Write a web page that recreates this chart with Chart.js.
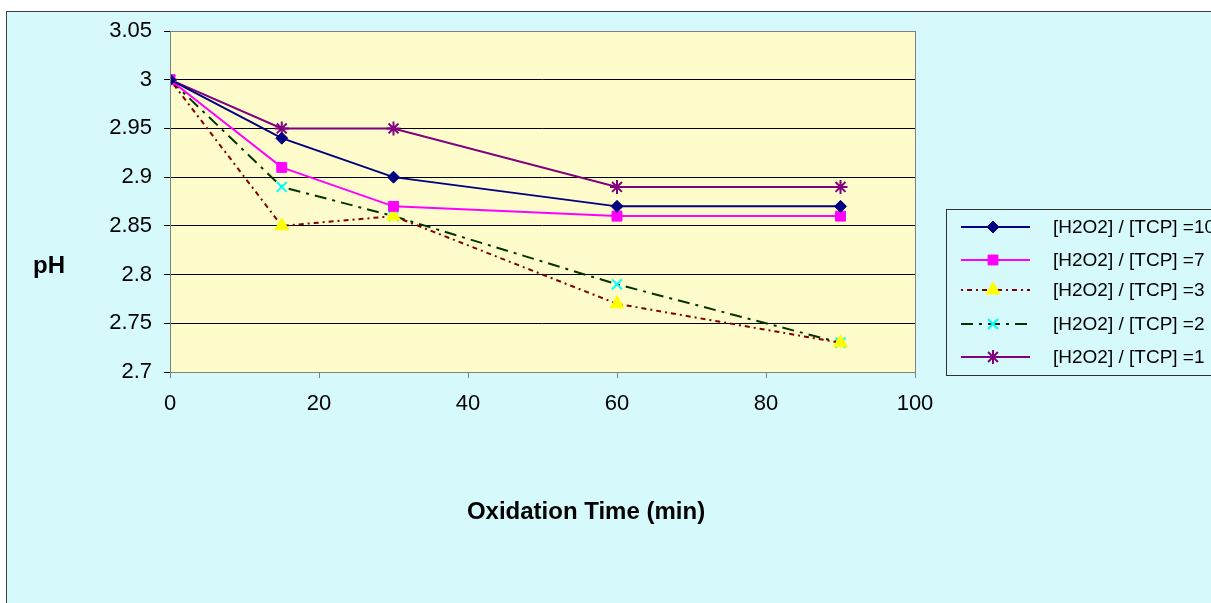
<!DOCTYPE html>
<html>
<head>
<meta charset="utf-8">
<script src="https://cdn.jsdelivr.net/npm/chart.js@4"></script>
<style>
    html, body { margin: 0; padding: 0; background: #ffffff; }
    canvas { display: block; }
</style>
</head>
<body>
<canvas id="ph" width="1211" height="603"></canvas>
<script>
const times = [0, 15, 30, 60, 90];

const labels = [
    '[H2O2] / [TCP] =10',
    '[H2O2] / [TCP] =7',
    '[H2O2] / [TCP] =3',
    '[H2O2] / [TCP] =2',
    '[H2O2] / [TCP] =1',
];

let ph_10 = [3.00, 2.94, 2.90, 2.87, 2.87];
let ph_7 = [3.00, 2.91, 2.87, 2.86, 2.86];
let ph_3 = [3.00, 2.85, 2.86, 2.77, 2.73];
let ph_2 = [3.00, 2.89, 2.86, 2.79, 2.73];
let ph_1 = [3.00, 2.95, 2.95, 2.89, 2.89];

const xTicks = [0, 20, 40, 60, 80, 100];
const yTicks = [2.7, 2.75, 2.8, 2.85, 2.9, 2.95, 3, 3.05];

const pts = (ys) => times.map((t, i) => ({ x: t, y: ys[i] }));

const FONT = '"Liberation Sans", Arial, sans-serif';
const BG = '#d6fafb';
const PLOT_BG = '#fffccc';

// background, plot area, axis titles and legend
const decor = {
    id: 'decor',
    beforeDraw(chart) {
        const c = chart.ctx, a = chart.chartArea;
        c.save();
        c.fillStyle = BG;
        c.fillRect(6, 11, chart.width - 6, chart.height - 11);
        c.strokeStyle = '#404040';
        c.lineWidth = 1;
        c.strokeRect(6.5, 11.5, chart.width + 10, chart.height + 10);
        c.fillStyle = PLOT_BG;
        c.fillRect(a.left, a.top, a.right - a.left, a.bottom - a.top);
        c.restore();
    },
    afterDraw(chart) {
        const c = chart.ctx, a = chart.chartArea;
        c.save();
        c.strokeStyle = '#808080';
        c.lineWidth = 1;
        c.strokeRect(a.left + 0.5, a.top + 0.5, a.right - a.left, a.bottom - a.top);

        c.fillStyle = '#000';
        c.font = 'bold 24px ' + FONT;
        c.textBaseline = 'middle';
        c.textAlign = 'center';
        c.fillText('pH', 49, 266);
        c.fillText('Oxidation Time (min)', 586, 512);

        // legend box
        c.fillStyle = BG;
        c.fillRect(946, 209, 270, 166);
        c.strokeStyle = '#303030';
        c.strokeRect(946.5, 209.5, 270, 166);
        const rows = [227, 260, 290, 324, 357];
        chart.data.datasets.forEach((ds, i) => {
            const y = rows[i];
            c.save();
            c.strokeStyle = ds.borderColor;
            c.lineWidth = ds.borderWidth;
            c.setLineDash(ds.borderDash || []);
            c.beginPath();
            c.moveTo(961, y);
            c.lineTo(1030, y);
            c.stroke();
            c.restore();
            c.fillStyle = ds.pointBackgroundColor;
            c.strokeStyle = ds.pointBorderColor;
            c.lineWidth = ds.pointBorderWidth;
            Chart.helpers.drawPoint(c, {
                pointStyle: ds.pointStyle,
                radius: ds.pointRadius,
                rotation: 0,
                borderWidth: ds.pointBorderWidth,
            }, 993, y);
            c.fillStyle = '#000';
            c.font = '19px ' + FONT;
            c.textAlign = 'left';
            c.textBaseline = 'middle';
            c.fillText(ds.label, 1053, y + 1);
        });
        c.restore();
    }
};

const ctx_ph = document.getElementById('ph').getContext('2d');
const Chart_ph = new Chart(ctx_ph, {
    type: 'line',
    data: {
        datasets: [{
            label: labels[0],
            data: pts(ph_10),
            borderColor: '#000080',
            borderWidth: 2,
            pointStyle: 'rectRot',
            pointRadius: 6,
            pointBackgroundColor: '#000080',
            pointBorderColor: '#000080',
            pointBorderWidth: 1,
        }, {
            label: labels[1],
            data: pts(ph_7),
            borderColor: '#ff00ff',
            borderWidth: 2,
            pointStyle: 'rect',
            pointRadius: 7,
            pointBackgroundColor: '#ff00ff',
            pointBorderColor: '#ff00ff',
            pointBorderWidth: 1,
        }, {
            label: labels[2],
            data: pts(ph_3),
            borderColor: '#800000',
            borderWidth: 2,
            borderDash: [2, 4, 5, 4],
            pointStyle: 'triangle',
            pointRadius: 8,
            pointBackgroundColor: '#ffff00',
            pointBorderColor: '#ffff00',
            pointBorderWidth: 1,
        }, {
            label: labels[3],
            data: pts(ph_2),
            borderColor: '#003300',
            borderWidth: 2,
            borderDash: [12, 6, 3, 6],
            pointStyle: 'crossRot',
            pointRadius: 7,
            pointBackgroundColor: '#00ffff',
            pointBorderColor: '#00ffff',
            pointBorderWidth: 2,
        }, {
            label: labels[4],
            data: pts(ph_1),
            borderColor: '#800080',
            borderWidth: 2,
            pointStyle: 'star',
            pointRadius: 7,
            pointBackgroundColor: '#800080',
            pointBorderColor: '#800080',
            pointBorderWidth: 2,
        }]
    },
    options: {
        responsive: false,
        animation: false,
        layout: {
            padding: { left: 0, top: 31, right: 296, bottom: 0 }
        },
        plugins: {
            legend: { display: false },
            tooltip: { enabled: false },
        },
        scales: {
            x: {
                type: 'linear',
                min: 0,
                max: 100,
                afterBuildTicks: (s) => { s.ticks = xTicks.map(v => ({ value: v })); },
                afterFit: (s) => { s.height = 231; },
                border: { display: false },
                grid: { drawOnChartArea: false, tickLength: 6, color: '#808080' },
                ticks: { color: '#000', padding: 13, font: { family: FONT, size: 22 } },
            },
            y: {
                min: 2.7,
                max: 3.05,
                afterBuildTicks: (s) => { s.ticks = yTicks.map(v => ({ value: v })); },
                afterFit: (s) => { s.width = 170; },
                border: { display: false },
                grid: { color: '#000', tickLength: 6, lineWidth: 1 },
                ticks: {
                    color: '#000',
                    padding: 12,
                    font: { family: FONT, size: 22 },
                    callback: (v) => String(+v.toFixed(2)),
                },
            }
        }
    },
    plugins: [decor]
});
</script>
</body>
</html>
